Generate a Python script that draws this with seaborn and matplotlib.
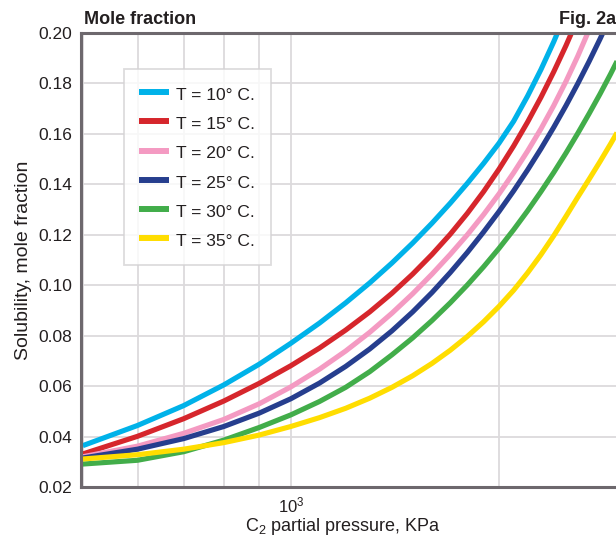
import numpy as np
import pandas as pd
import matplotlib
matplotlib.use("Agg")
import matplotlib.pyplot as plt
import seaborn as sns

# ---- data ----
nan = np.nan
pressure = [500, 600, 700, 800, 900, 1000, 1100, 1200, 1300, 1400, 1500, 1600, 1700,
            1800, 1900, 2000, 2100, 2200, 2300, 2400, 2500, 2600, 2700, 2800, 2900, 3000]
t10 = [0.0364, 0.0444, 0.0523, 0.0605, 0.0687, 0.0770, 0.0850, 0.0930, 0.1009, 0.1088, 0.1167, 0.1246, 0.1325,
       0.1404, 0.1483, 0.1563, 0.1650, 0.1750, 0.1855, 0.1965, 0.2080, nan, nan, nan, nan, nan]
t15 = [0.0331, 0.0401, 0.0471, 0.0541, 0.0611, 0.0681, 0.0751, 0.0822, 0.0894, 0.0968, 0.1044, 0.1122, 0.1202,
       0.1285, 0.1371, 0.1460, 0.1552, 0.1647, 0.1745, 0.1846, 0.1950, 0.2057, nan, nan, nan, nan]
t20 = [0.0320, 0.0362, 0.0413, 0.0468, 0.0530, 0.0597, 0.0667, 0.0739, 0.0813, 0.0889, 0.0966, 0.1044, 0.1122,
       0.1200, 0.1280, 0.1362, 0.1446, 0.1532, 0.1620, 0.1712, 0.1808, 0.1908, 0.2012, nan, nan, nan]
t25 = [0.0315, 0.0350, 0.0392, 0.0440, 0.0493, 0.0550, 0.0612, 0.0678, 0.0747, 0.0819, 0.0894, 0.0971, 0.1050,
       0.1130, 0.1211, 0.1292, 0.1374, 0.1457, 0.1541, 0.1626, 0.1712, 0.1799, 0.1887, 0.1976, 0.2066, nan]
t30 = [0.0291, 0.0306, 0.0340, 0.0386, 0.0436, 0.0486, 0.0539, 0.0595, 0.0657, 0.0724, 0.0791, 0.0860, 0.0930,
       0.1001, 0.1073, 0.1146, 0.1220, 0.1295, 0.1371, 0.1447, 0.1524, 0.1602, 0.1680, 0.1758, 0.1837, 0.1917]
t35 = [0.0311, 0.0328, 0.0350, 0.0376, 0.0406, 0.0440, 0.0475, 0.0512, 0.0552, 0.0595, 0.0641, 0.0690, 0.0742,
       0.0797, 0.0855, 0.0916, 0.0980, 0.1049, 0.1121, 0.1196, 0.1273, 0.1349, 0.1420, 0.1490, 0.1560, 0.1630]
labels = ["T = 10° C.", "T = 15° C.", "T = 20° C.", "T = 25° C.", "T = 30° C.", "T = 35° C."]
colors = ["#00b2e9", "#d6262c", "#f49ac2", "#263e8e", "#42ad4a", "#ffdd00"]
yticks = [0.02, 0.04, 0.06, 0.08, 0.10, 0.12, 0.14, 0.16, 0.18, 0.20]

series = [t10, t15, t20, t25, t30, t35]
frames = []
for lab, vals in zip(labels, series):
    frames.append(pd.DataFrame({"P": pressure, "y": vals, "T": lab}))
df = pd.concat(frames, ignore_index=True).dropna()

sns.set_theme(style="white")
plt.rcParams["font.family"] = ["Liberation Sans", "DejaVu Sans"]
plt.rcParams["mathtext.fontset"] = "custom"
plt.rcParams["mathtext.rm"] = "Liberation Sans"
plt.rcParams["mathtext.it"] = "Liberation Sans:italic"
plt.rcParams["mathtext.bf"] = "Liberation Sans:bold"

spine_c = "#6d686d"
grid_c = "#dcdadc"
text_c = "#231f20"

fig = plt.figure(figsize=(6.16, 5.36), dpi=100)
ax = fig.add_axes([81 / 616, 49 / 536, (620.7 - 81) / 616, 454 / 536])

sns.lineplot(data=df, x="P", y="y", hue="T", palette=colors, hue_order=labels,
             estimator=None, sort=True, linewidth=3.7, ax=ax, legend=True,
             solid_capstyle="butt", solid_joinstyle="round")

ax.set_xscale("log")
ax.set_xlim(497, 3000)
ax.set_ylim(0.02, 0.20)
ax.set_yticks(yticks)
ax.set_yticklabels([f"{v:.2f}" for v in yticks], fontsize=12.5, color=text_c)
ax.set_xticks([1000])
ax.set_xticklabels([r"$\mathdefault{10^{3}}$"], fontsize=12, color=text_c)
ax.set_xticks([500, 600, 700, 800, 900, 2000, 3000], minor=True)
ax.xaxis.set_minor_formatter(matplotlib.ticker.NullFormatter())
ax.tick_params(axis="x", which="minor", length=0)
ax.tick_params(axis="x", which="major", length=5, width=1.5, color=spine_c, direction="out", pad=1)
ax.tick_params(axis="y", which="major", length=5, width=1.5, color=spine_c, direction="out", pad=1.5)
ax.grid(True, which="both", color=grid_c, linewidth=1.3)
ax.set_axisbelow(True)

for s in ["left", "bottom", "top"]:
    ax.spines[s].set_color(spine_c)
    ax.spines[s].set_linewidth(2.2)
ax.spines["right"].set_visible(False)

ax.set_xlabel("C$_2$ partial pressure, KPa", fontsize=13, color=text_c)
ax.set_ylabel("Solubility, mole fraction", fontsize=14, color=text_c)
ax.xaxis.set_label_coords(0.485, -0.064)
ax.yaxis.set_label_coords(-0.090, 0.5)

fig.text(84 / 616, 1 - 19 / 536, "Mole fraction", fontsize=13, fontweight="bold",
         color=text_c, ha="left", va="center")
fig.text(1.0, 1 - 19 / 536, "Fig. 2a", fontsize=13, fontweight="bold",
         color=text_c, ha="right", va="center")

handles, labs = ax.get_legend_handles_labels()
for h in handles:
    h.set_linewidth(4.3)
leg = ax.legend(handles, labs, loc="upper left", bbox_to_anchor=((124 - 81) / 539.7, (487 - 69) / 454),
                borderaxespad=0, frameon=True, fancybox=False, fontsize=12.6,
                handlelength=1.71, handletextpad=0.4, labelspacing=0.53, handleheight=1.37,
                borderpad=0.88, title=None)
leg.get_frame().set_edgecolor("#d5d3d5")
leg.get_frame().set_linewidth(1.3)
for t in leg.get_texts():
    t.set_color(text_c)

fig.savefig("out.png", dpi=100)
